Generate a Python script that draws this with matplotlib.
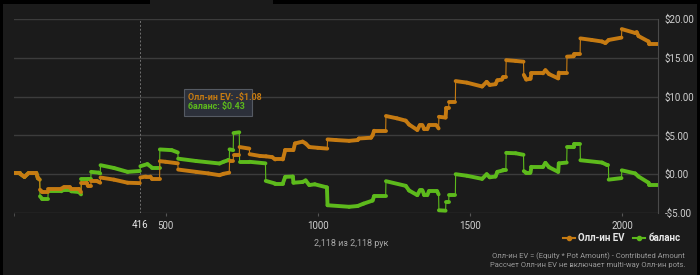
import numpy as np
import matplotlib
matplotlib.use("Agg")
import matplotlib.pyplot as plt
from matplotlib.collections import LineCollection
from matplotlib.lines import Line2D
from matplotlib.patches import Rectangle

plt.rcParams['font.family'] = ['Roboto', 'DejaVu Sans']

# hand number / running value for each series (pairs of neighbouring hands = jumps)
ev_hands = [1, 20, 36, 50, 75, 80, 86, 87, 95, 113, 114, 157, 165, 185, 190, 215, 222, 223,
            240, 245, 254, 255, 275, 285, 286, 330, 375, 415, 416, 417, 435, 450, 455, 480,
            481, 500, 540, 541, 600, 640, 677, 690, 709, 710, 722, 723, 742, 743, 775, 776,
            810, 830, 850, 860, 885, 893, 920, 925, 950, 960, 972, 1000, 1031, 1032, 1060,
            1103, 1131, 1135, 1175, 1180, 1185, 1223, 1224, 1260, 1289, 1300, 1327, 1335,
            1344, 1350, 1360, 1365, 1390, 1397, 1398, 1420, 1422, 1430, 1431, 1452, 1453,
            1490, 1540, 1555, 1565, 1584, 1590, 1605, 1610, 1618, 1619, 1650, 1676, 1677,
            1685, 1699, 1702, 1740, 1748, 1760, 1790, 1792, 1818, 1819, 1841, 1843, 1862,
            1863, 1900, 1934, 1945, 1956, 1998, 1999, 2043, 2048, 2054, 2087, 2090, 2118]
ev_vals = [0.1, 0.1, -0.35, 0.17, 0.17, -0.5, -0.7, -2.0, -2.3, -2.3, -1.85, -1.85, -1.7, -1.7,
           -1.9, -1.9, -2.3, -1.1, -1.1, -1.5, -1.5, -0.9, -0.9, -1.1, -0.43, -0.7, -1.1, -1.15,
           -1.08, -0.43, -0.3, -0.3, -0.6, -0.6, 1.68, 1.6, 1.4, 0.6, 0.3, 0.1, -0.13, 0.05, 0.2,
           1.7, 1.7, 2.45, 2.45, 3.5, 3.3, 2.58, 2.35, 2.3, 2.2, 1.9, 1.9, 3.1, 3.1, 3.96, 4.2,
           3.96, 3.5, 3.4, 3.3, 4.48, 4.4, 4.3, 4.4, 4.6, 4.7, 5.0, 5.6, 5.6, 7.5, 7.2, 6.9, 6.4,
           5.7, 6.3, 6.3, 5.8, 5.8, 6.3, 6.3, 5.9, 7.4, 7.3, 8.5, 8.5, 9.35, 9.35, 12.0, 11.8,
           11.3, 11.9, 11.5, 11.6, 12.1, 12.2, 12.5, 12.5, 14.7, 14.6, 14.5, 12.8, 12.2, 12.3,
           13.0, 13.0, 13.4, 12.9, 12.35, 13.1, 13.1, 15.15, 15.2, 15.45, 15.45, 17.5, 17.3,
           17.1, 16.9, 17.3, 17.6, 18.7, 18.2, 18.3, 17.8, 17.1, 16.75, 16.75]

bal_hands = [1, 20, 36, 50, 75, 80, 86, 87, 95, 113, 114, 157, 165, 185, 190, 215, 222, 223,
             245, 254, 255, 280, 285, 286, 330, 375, 415, 416, 417, 440, 455, 480, 481, 520,
             540, 541, 600, 677, 690, 705, 709, 710, 722, 723, 742, 743, 775, 828, 829, 860,
             885, 893, 918, 920, 950, 960, 972, 990, 1030, 1032, 1103, 1131, 1150, 1180, 1185,
             1223, 1224, 1289, 1300, 1327, 1335, 1344, 1350, 1360, 1365, 1392, 1397, 1398,
             1420, 1421, 1430, 1431, 1452, 1453, 1490, 1540, 1555, 1565, 1584, 1590, 1610,
             1618, 1619, 1650, 1676, 1677, 1685, 1699, 1702, 1740, 1748, 1760, 1790, 1792,
             1818, 1819, 1841, 1843, 1862, 1863, 1934, 1950, 1955, 1956, 1998, 1999, 2043,
             2054, 2087, 2090, 2118]
bal_vals = [0.1, 0.1, -0.35, 0.17, 0.17, -0.5, -0.7, -2.85, -3.2, -3.2, -2.2, -2.2, -2.0, -2.0,
            -2.2, -2.3, -2.6, -0.65, -0.65, -0.65, 0.3, 0.2, 0.1, 1.16, 0.8, 0.3, 0.41, 0.43,
            1.03, 1.3, 0.85, 0.85, 3.19, 3.1, 2.8, 2.0, 1.7, 1.38, 1.6, 1.8, 1.8, 3.2, 3.1, 5.3,
            5.4, 1.6, 1.6, 1.4, -0.86, -1.2, -1.2, -0.34, -0.3, -1.1, -1.0, -0.8, -1.4, -1.3,
            -1.7, -4.0, -4.2, -4.1, -3.8, -3.4, -2.85, -2.85, -0.9, -1.5, -2.1, -2.7, -2.1,
            -2.1, -2.7, -2.7, -2.2, -2.2, -2.6, -4.65, -4.7, -3.6, -3.6, -2.7, -2.7, 0.0, -0.2,
            -0.6, 0.0, -0.4, -0.3, 0.3, 0.5, 0.5, 2.75, 2.7, 2.5, 0.4, 0.2, 0.2, 0.95, 0.95,
            1.46, 0.9, 0.3, 1.4, 1.5, 3.5, 3.5, 3.9, 3.9, 1.8, 1.5, 1.2, 1.2, -0.7, -0.5, 0.5,
            0.1, -0.3, -1.1, -1.4, -1.4]

total_hands = 2118
hover_hand = 416
y_ticks = [-5, 0, 5, 10, 15, 20]
x_ticks = [500, 1000, 1500, 2000]

ev_color = '#c67b12'
bal_color = '#5dba1c'
bg = '#1b1b1b'


def money(v):
    return ('-$%.2f' % abs(v)) if v < 0 else ('$%.2f' % v)


def draw_series(ax, xs, ys, color, z):
    pts = np.column_stack([xs, ys])
    segs = np.stack([pts[:-1], pts[1:]], axis=1)
    jump = np.diff(xs) <= 1
    widths = np.where(jump, 0.8, 2.8)
    lc = LineCollection(segs, colors=color, linewidths=widths, capstyle='round',
                        joinstyle='round', zorder=z)
    ax.add_collection(lc)


fig = plt.figure(figsize=(7, 2.75), dpi=100, facecolor='black')
fig.patches.append(Rectangle((3 / 700, 0), 694 / 700, 271 / 275, transform=fig.transFigure,
                             facecolor=bg, edgecolor='none', zorder=-10))
fig.patches.append(Rectangle((150 / 700, 270 / 275), 123 / 700, 5 / 275, transform=fig.transFigure,
                             facecolor=bg, edgecolor='none', zorder=-10))

ax = fig.add_axes([13.5 / 700, 62 / 275, 644.5 / 700, 194 / 275])
ax.set_facecolor(bg)
ax.set_xlim(0, total_hands)
ax.set_ylim(-5, 20)

for s in ['top', 'left', 'bottom']:
    ax.spines[s].set_visible(False)
ax.spines['right'].set_color('#4a4a4a')

ax.set_yticks(y_ticks)
ax.set_yticklabels([money(v) for v in y_ticks])
ax.yaxis.tick_right()
ax.tick_params(axis='y', length=0, pad=5, labelsize=7, labelcolor='#d0d0d0')
ax.set_xticks(x_ticks)
ax.set_xticks([0], minor=True)
ax.tick_params(axis='x', which='both', length=2, color='#555555', pad=4, labelsize=7,
               labelcolor='#d0d0d0')
ax.grid(axis='y', color='#3c3c3c', linewidth=1)
ax.set_axisbelow(True)

ax.axvline(hover_hand, color='#707070', linewidth=0.7, linestyle=(0, (2, 2)), zorder=1)
ax.text(hover_hand, -5.9, str(hover_hand), ha='center', va='top', fontsize=7, color='#e8e8e8')

draw_series(ax, bal_hands, bal_vals, bal_color, 3)
draw_series(ax, ev_hands, ev_vals, ev_color, 4)

# tooltip
ev_at = ev_vals[ev_hands.index(hover_hand)]
bal_at = bal_vals[bal_hands.index(hover_hand)]
ax.add_patch(Rectangle((0.2646, 0.5), 0.1055, 0.139, transform=ax.transAxes,
                       facecolor='#2c303a', edgecolor='#555a63', linewidth=0.8, zorder=10))
ax.text(0.2708, 0.597, 'Олл-ин EV: ' + money(ev_at), transform=ax.transAxes, fontsize=6.4,
        color=ev_color, fontweight='bold', va='center', ha='left', zorder=11)
ax.text(0.2708, 0.550, 'баланс: ' + money(bal_at), transform=ax.transAxes, fontsize=6.4,
        color=bal_color, fontweight='bold', va='center', ha='left', zorder=11)

fig.text(351 / 700, 1 - 243 / 275, '{:,} из {:,} рук'.format(total_hands, total_hands),
         ha='center', va='center', fontsize=6.5, color='#a8a8a8')

handles = [Line2D([], [], color=ev_color, marker='o', markersize=3, linewidth=1.5),
           Line2D([], [], color=bal_color, marker='o', markersize=3, linewidth=1.5)]
leg = fig.legend(handles, ['Олл-ин EV', 'баланс'], loc='center right',
                 bbox_to_anchor=(689 / 700, 1 - 238 / 275), ncol=2, frameon=False,
                 handlelength=1.3, handletextpad=0.3, columnspacing=0.8,
                 prop={'size': 7, 'weight': 'bold'})
for t in leg.get_texts():
    t.set_color('#e6e6e6')

fig.text(685 / 700, 1 - 256.5 / 275, 'Олл-ин EV = (Equity * Pot Amount) - Contributed Amount',
         ha='right', va='center', fontsize=5.5, color='#9a9a9a')
fig.text(685 / 700, 1 - 264.5 / 275, 'Рассчет Олл-ин EV не включает multi-way Олл-ин pots.',
         ha='right', va='center', fontsize=5.5, color='#9a9a9a')

fig.savefig('out.png', dpi=100, facecolor=fig.get_facecolor())
